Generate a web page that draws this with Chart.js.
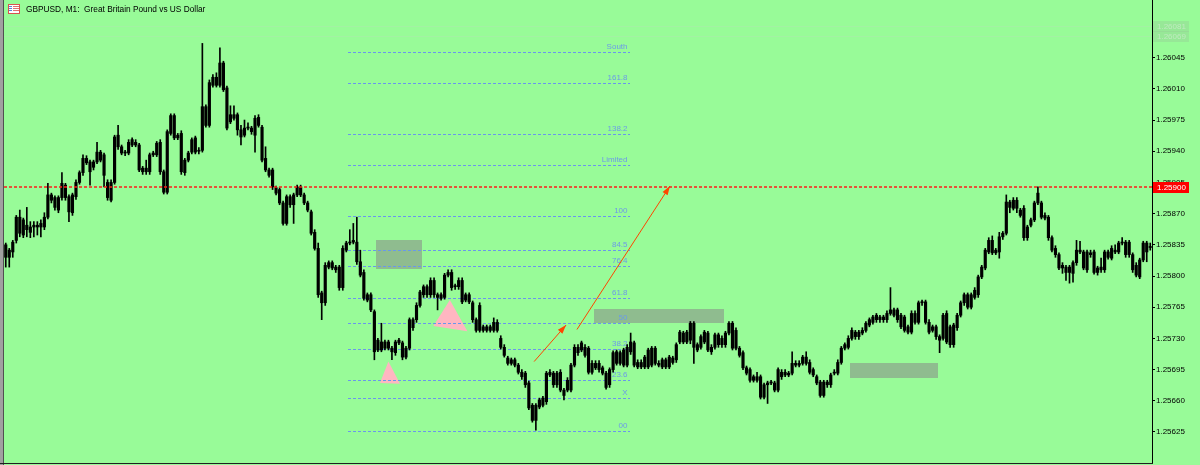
<!DOCTYPE html>
<html>
<head>
<meta charset="utf-8">
<script src="https://cdn.jsdelivr.net/npm/chart.js@4.4.1/dist/chart.umd.min.js"></script>
<style>
  html, body { margin: 0; padding: 0; background: #98fb98; }
  #wrap { position: relative; width: 1200px; height: 465px; overflow: hidden; }
</style>
</head>
<body>
<div id="wrap"><canvas id="chart" width="1200" height="465"></canvas></div>
<script>
// GBPUSD M1 candles
const opens = [
  1.25821,1.25829,1.25827,1.25840,1.25866,1.25846,1.25857,1.25849,1.25857,1.25855,
  1.25855,1.25855,1.25866,1.25891,1.25888,1.25874,1.25888,1.25902,1.25889,1.25871,
  1.25889,1.25905,1.25916,1.25932,1.25928,1.25922,1.25928,1.25939,1.25936,1.25905,
  1.25885,1.25905,1.25958,1.25945,1.25939,1.25938,1.25947,1.25950,1.25947,1.25917,
  1.25921,1.25917,1.25936,1.25936,1.25950,1.25917,1.25894,1.25960,1.25980,1.25955,
  1.25960,1.25916,1.25930,1.25939,1.25955,1.25940,1.25941,1.25990,1.25969,1.26014,
  1.26023,1.26014,1.26039,1.26011,1.25973,1.25981,1.25981,1.25964,1.25958,1.25967,
  1.25966,1.25958,1.25978,1.25967,1.25932,1.25919,1.25919,1.25899,1.25897,1.25882,
  1.25859,1.25889,1.25880,1.25891,1.25900,1.25891,1.25882,1.25872,1.25849,1.25831,
  1.25781,1.25770,1.25810,1.25815,1.25810,1.25810,1.25787,1.25829,1.25837,1.25838,
  1.25838,1.25816,1.25804,1.25773,1.25779,1.25760,1.25717,1.25726,1.25719,1.25726,
  1.25719,1.25714,1.25725,1.25725,1.25709,1.25719,1.25751,1.25751,1.25767,1.25779,
  1.25788,1.25779,1.25795,1.25779,1.25779,1.25776,1.25801,1.25804,1.25788,1.25788,
  1.25795,1.25773,1.25779,1.25770,1.25751,1.25739,1.25743,1.25739,1.25743,1.25739,
  1.25748,1.25730,1.25720,1.25708,1.25702,1.25706,1.25700,1.25692,1.25691,1.25680,
  1.25655,1.25638,1.25653,1.25655,1.25659,1.25692,1.25691,1.25678,1.25692,1.25672,
  1.25672,1.25672,1.25700,1.25720,1.25717,1.25720,1.25719,1.25692,1.25702,1.25702,
  1.25697,1.25691,1.25678,1.25695,1.25715,1.25702,1.25700,1.25700,1.25715,1.25725,
  1.25698,1.25703,1.25698,1.25717,1.25700,1.25719,1.25702,1.25698,1.25706,1.25698,
  1.25708,1.25706,1.25726,1.25736,1.25726,1.25728,1.25747,1.25723,1.25720,1.25726,
  1.25736,1.25720,1.25720,1.25734,1.25723,1.25723,1.25736,1.25747,1.25719,1.25719,
  1.25714,1.25697,1.25695,1.25687,1.25683,1.25687,1.25664,1.25678,1.25681,1.25680,
  1.25672,1.25692,1.25689,1.25691,1.25691,1.25700,1.25702,1.25702,1.25709,1.25703,
  1.25695,1.25687,1.25681,1.25666,1.25681,1.25678,1.25691,1.25691,1.25703,1.25719,
  1.25720,1.25730,1.25737,1.25732,1.25736,1.25739,1.25745,1.25748,1.25751,1.25754,
  1.25751,1.25751,1.25758,1.25762,1.25762,1.25756,1.25739,1.25743,1.25737,1.25758,
  1.25748,1.25770,1.25771,1.25748,1.25743,1.25743,1.25732,1.25730,1.25758,1.25723,
  1.25745,1.25742,1.25756,1.25770,1.25779,1.25765,1.25776,1.25779,1.25799,1.25809,
  1.25827,1.25840,1.25829,1.25827,1.25844,1.25848,1.25883,1.25876,1.25885,1.25874,
  1.25876,1.25843,1.25857,1.25863,1.25882,1.25882,1.25868,1.25866,1.25843,1.25831,
  1.25824,1.25812,1.25810,1.25804,1.25803,1.25815,1.25829,1.25827,1.25807,1.25826,
  1.25827,1.25804,1.25807,1.25807,1.25827,1.25820,1.25827,1.25827,1.25837,1.25838,
  1.25824,1.25824,1.25812,1.25799,1.25818,1.25837,1.25832
];
const highs = [
  1.25837,1.25831,1.25840,1.25868,1.25874,1.25865,1.25877,1.25861,1.25861,1.25861,
  1.25863,1.25871,1.25904,1.25893,1.25890,1.25890,1.25916,1.25904,1.25891,1.25893,
  1.25908,1.25918,1.25936,1.25935,1.25930,1.25930,1.25950,1.25941,1.25938,1.25908,
  1.25908,1.25958,1.25969,1.25947,1.25941,1.25953,1.25955,1.25953,1.25949,1.25923,
  1.25930,1.25938,1.25940,1.25951,1.25953,1.25919,1.25964,1.25982,1.25982,1.25960,
  1.25963,1.25932,1.25940,1.25955,1.25957,1.25944,1.26061,1.25992,1.26020,1.26026,
  1.26028,1.26056,1.26041,1.26013,1.25991,1.25991,1.25983,1.25969,1.25975,1.25972,
  1.25968,1.25980,1.25981,1.25969,1.25945,1.25921,1.25921,1.25901,1.25899,1.25884,
  1.25891,1.25891,1.25893,1.25902,1.25902,1.25893,1.25884,1.25874,1.25852,1.25837,
  1.25783,1.25815,1.25817,1.25817,1.25812,1.25812,1.25834,1.25839,1.25852,1.25859,
  1.25866,1.25829,1.25807,1.25781,1.25781,1.25762,1.25730,1.25747,1.25728,1.25728,
  1.25721,1.25728,1.25730,1.25727,1.25721,1.25753,1.25753,1.25770,1.25784,1.25790,
  1.25790,1.25798,1.25798,1.25781,1.25781,1.25803,1.25807,1.25807,1.25791,1.25798,
  1.25798,1.25781,1.25781,1.25772,1.25753,1.25770,1.25745,1.25745,1.25745,1.25753,
  1.25751,1.25733,1.25723,1.25710,1.25708,1.25708,1.25702,1.25695,1.25693,1.25682,
  1.25657,1.25657,1.25663,1.25665,1.25693,1.25695,1.25693,1.25693,1.25695,1.25674,
  1.25686,1.25702,1.25723,1.25723,1.25727,1.25723,1.25721,1.25705,1.25705,1.25705,
  1.25699,1.25693,1.25697,1.25716,1.25717,1.25716,1.25719,1.25723,1.25736,1.25727,
  1.25706,1.25706,1.25711,1.25719,1.25721,1.25721,1.25705,1.25708,1.25708,1.25711,
  1.25710,1.25725,1.25739,1.25738,1.25739,1.25749,1.25749,1.25725,1.25734,1.25739,
  1.25738,1.25723,1.25736,1.25736,1.25733,1.25738,1.25749,1.25749,1.25742,1.25721,
  1.25716,1.25699,1.25697,1.25689,1.25692,1.25689,1.25680,1.25682,1.25683,1.25682,
  1.25697,1.25695,1.25695,1.25693,1.25715,1.25705,1.25705,1.25711,1.25715,1.25706,
  1.25697,1.25689,1.25683,1.25683,1.25683,1.25691,1.25695,1.25706,1.25721,1.25725,
  1.25733,1.25742,1.25739,1.25739,1.25742,1.25749,1.25753,1.25756,1.25758,1.25756,
  1.25756,1.25761,1.25787,1.25764,1.25764,1.25758,1.25756,1.25745,1.25761,1.25761,
  1.25772,1.25773,1.25773,1.25751,1.25745,1.25745,1.25734,1.25758,1.25761,1.25745,
  1.25747,1.25758,1.25772,1.25781,1.25781,1.25781,1.25787,1.25801,1.25812,1.25831,
  1.25843,1.25845,1.25831,1.25849,1.25850,1.25891,1.25885,1.25888,1.25888,1.25876,
  1.25879,1.25857,1.25865,1.25884,1.25900,1.25884,1.25871,1.25868,1.25845,1.25834,
  1.25826,1.25815,1.25812,1.25812,1.25817,1.25840,1.25839,1.25829,1.25829,1.25829,
  1.25829,1.25811,1.25820,1.25829,1.25829,1.25834,1.25835,1.25839,1.25843,1.25840,
  1.25840,1.25826,1.25815,1.25820,1.25839,1.25839,1.25837
];
const lows = [
  1.25810,1.25810,1.25821,1.25837,1.25844,1.25843,1.25844,1.25843,1.25844,1.25846,
  1.25844,1.25852,1.25864,1.25882,1.25874,1.25871,1.25885,1.25885,1.25861,1.25868,
  1.25886,1.25903,1.25913,1.25925,1.25902,1.25919,1.25926,1.25928,1.25900,1.25885,
  1.25883,1.25903,1.25942,1.25936,1.25935,1.25936,1.25945,1.25945,1.25917,1.25914,
  1.25914,1.25914,1.25934,1.25934,1.25914,1.25892,1.25892,1.25958,1.25953,1.25953,
  1.25914,1.25913,1.25928,1.25937,1.25937,1.25937,1.25939,1.25967,1.25967,1.26012,
  1.26012,1.26012,1.26007,1.25964,1.25971,1.25975,1.25958,1.25947,1.25956,1.25964,
  1.25959,1.25939,1.25967,1.25928,1.25917,1.25911,1.25897,1.25891,1.25880,1.25857,
  1.25857,1.25877,1.25859,1.25889,1.25889,1.25880,1.25872,1.25846,1.25829,1.25776,
  1.25751,1.25767,1.25808,1.25807,1.25804,1.25784,1.25784,1.25827,1.25835,1.25836,
  1.25813,1.25799,1.25773,1.25771,1.25760,1.25706,1.25715,1.25715,1.25717,1.25717,
  1.25706,1.25711,1.25723,1.25706,1.25707,1.25717,1.25739,1.25748,1.25765,1.25776,
  1.25776,1.25776,1.25776,1.25762,1.25773,1.25774,1.25799,1.25784,1.25785,1.25785,
  1.25769,1.25771,1.25769,1.25748,1.25737,1.25737,1.25737,1.25737,1.25737,1.25737,
  1.25737,1.25718,1.25709,1.25700,1.25700,1.25698,1.25690,1.25684,1.25675,1.25650,
  1.25636,1.25627,1.25651,1.25653,1.25656,1.25687,1.25675,1.25675,1.25670,1.25661,
  1.25670,1.25670,1.25698,1.25711,1.25715,1.25709,1.25690,1.25690,1.25695,1.25692,
  1.25689,1.25673,1.25675,1.25692,1.25700,1.25700,1.25698,1.25698,1.25712,1.25698,
  1.25696,1.25696,1.25696,1.25696,1.25698,1.25700,1.25698,1.25696,1.25696,1.25696,
  1.25701,1.25703,1.25724,1.25724,1.25724,1.25724,1.25702,1.25715,1.25718,1.25724,
  1.25715,1.25712,1.25718,1.25720,1.25720,1.25720,1.25734,1.25717,1.25717,1.25709,
  1.25695,1.25689,1.25681,1.25681,1.25681,1.25662,1.25662,1.25657,1.25678,1.25670,
  1.25670,1.25684,1.25687,1.25687,1.25689,1.25698,1.25698,1.25700,1.25700,1.25690,
  1.25687,1.25678,1.25664,1.25664,1.25675,1.25675,1.25689,1.25689,1.25701,1.25717,
  1.25718,1.25728,1.25729,1.25729,1.25734,1.25737,1.25743,1.25746,1.25748,1.25748,
  1.25748,1.25748,1.25756,1.25754,1.25748,1.25741,1.25737,1.25735,1.25735,1.25746,
  1.25746,1.25767,1.25746,1.25735,1.25737,1.25729,1.25714,1.25728,1.25724,1.25720,
  1.25720,1.25739,1.25754,1.25767,1.25763,1.25763,1.25774,1.25776,1.25797,1.25807,
  1.25825,1.25824,1.25824,1.25820,1.25841,1.25846,1.25871,1.25874,1.25871,1.25866,
  1.25840,1.25840,1.25855,1.25861,1.25880,1.25864,1.25863,1.25840,1.25827,1.25821,
  1.25807,1.25803,1.25795,1.25792,1.25793,1.25812,1.25825,1.25807,1.25804,1.25821,
  1.25802,1.25801,1.25804,1.25804,1.25819,1.25818,1.25825,1.25825,1.25835,1.25821,
  1.25821,1.25804,1.25799,1.25797,1.25816,1.25816,1.25829
];
const closes = [
  1.25835,1.25821,1.25838,1.25866,1.25848,1.25863,1.25852,1.25855,1.25855,1.25857,
  1.25859,1.25866,1.25891,1.25885,1.25877,1.25888,1.25904,1.25888,1.25872,1.25891,
  1.25905,1.25916,1.25932,1.25927,1.25917,1.25928,1.25939,1.25930,1.25913,1.25888,
  1.25905,1.25956,1.25945,1.25938,1.25938,1.25950,1.25953,1.25947,1.25919,1.25921,
  1.25917,1.25936,1.25938,1.25949,1.25917,1.25894,1.25962,1.25980,1.25955,1.25958,
  1.25917,1.25930,1.25938,1.25953,1.25939,1.25941,1.25990,1.25969,1.26017,1.26023,
  1.26014,1.26039,1.26009,1.25966,1.25981,1.25977,1.25964,1.25956,1.25966,1.25966,
  1.25962,1.25977,1.25969,1.25930,1.25919,1.25913,1.25900,1.25893,1.25882,1.25859,
  1.25889,1.25880,1.25891,1.25900,1.25891,1.25882,1.25874,1.25848,1.25831,1.25779,
  1.25770,1.25812,1.25815,1.25809,1.25807,1.25787,1.25831,1.25837,1.25838,1.25840,
  1.25816,1.25801,1.25775,1.25779,1.25762,1.25715,1.25728,1.25717,1.25726,1.25719,
  1.25715,1.25726,1.25728,1.25709,1.25719,1.25751,1.25742,1.25767,1.25782,1.25788,
  1.25779,1.25795,1.25779,1.25776,1.25775,1.25801,1.25804,1.25787,1.25789,1.25795,
  1.25771,1.25779,1.25771,1.25751,1.25739,1.25767,1.25739,1.25743,1.25739,1.25748,
  1.25739,1.25720,1.25711,1.25702,1.25706,1.25700,1.25692,1.25687,1.25678,1.25652,
  1.25638,1.25655,1.25661,1.25663,1.25691,1.25689,1.25678,1.25691,1.25672,1.25666,
  1.25683,1.25700,1.25720,1.25714,1.25725,1.25711,1.25692,1.25702,1.25697,1.25695,
  1.25691,1.25675,1.25695,1.25714,1.25702,1.25714,1.25717,1.25720,1.25726,1.25700,
  1.25703,1.25698,1.25709,1.25698,1.25719,1.25702,1.25700,1.25706,1.25698,1.25709,
  1.25703,1.25723,1.25737,1.25726,1.25737,1.25747,1.25720,1.25717,1.25732,1.25737,
  1.25717,1.25715,1.25734,1.25723,1.25730,1.25736,1.25747,1.25719,1.25739,1.25711,
  1.25697,1.25691,1.25683,1.25683,1.25687,1.25664,1.25678,1.25680,1.25680,1.25672,
  1.25695,1.25687,1.25692,1.25689,1.25702,1.25702,1.25700,1.25709,1.25702,1.25692,
  1.25689,1.25680,1.25666,1.25681,1.25678,1.25689,1.25692,1.25703,1.25719,1.25723,
  1.25730,1.25739,1.25732,1.25737,1.25739,1.25747,1.25751,1.25754,1.25756,1.25751,
  1.25754,1.25758,1.25762,1.25756,1.25751,1.25743,1.25754,1.25737,1.25758,1.25748,
  1.25770,1.25771,1.25748,1.25737,1.25739,1.25732,1.25728,1.25756,1.25726,1.25743,
  1.25723,1.25756,1.25770,1.25779,1.25765,1.25779,1.25784,1.25799,1.25810,1.25829,
  1.25840,1.25826,1.25826,1.25844,1.25848,1.25883,1.25877,1.25885,1.25876,1.25868,
  1.25843,1.25855,1.25863,1.25882,1.25893,1.25866,1.25865,1.25843,1.25829,1.25824,
  1.25809,1.25809,1.25804,1.25810,1.25815,1.25829,1.25827,1.25809,1.25827,1.25824,
  1.25804,1.25809,1.25810,1.25827,1.25821,1.25831,1.25829,1.25837,1.25838,1.25824,
  1.25838,1.25807,1.25801,1.25818,1.25837,1.25827,1.25833
];
const bars = opens.map((_, i) => String(i));

// price axis
const priceMin = 1.255902;
const priceMax = 1.261097;
const yTicks = [1.25625, 1.25660, 1.25695, 1.25730, 1.25765, 1.25800, 1.25835,
                1.25870, 1.25905, 1.25940, 1.25975, 1.26010, 1.26045];
const lastPrice = 1.25900;
const quoteLines = [1.26081, 1.26069];

// fibo object (bar index span + levels)
const fibSpan = [97.6, 177.8];
const fibLabels = ['South', '161.8', '138.2', 'Limited', '100', '84.5', '76.4', '61.8', '50', '38.2', '23.6', 'X', '00'];
const fibPrices = [1.26051, 1.26017, 1.25959, 1.25925, 1.25867, 1.25829, 1.25811, 1.25775, 1.25747, 1.25718, 1.25683, 1.25663, 1.25626];

// rectangles: bar index from/to, price top/bottom
const zoneFrom = [105.5, 167.6, 240.5];
const zoneTo = [118.5, 204.6, 265.5];
const zoneTop = [1.25840, 1.25763, 1.25702];
const zoneBottom = [1.25808, 1.25747, 1.25686];

// triangles [barIndex, price]
const triangles = [
  [[109.0, 1.25704], [106.6, 1.25680], [112.3, 1.25679]],
  [[126.5, 1.25773], [121.8, 1.25744], [131.5, 1.25738]]
];
// arrowed lines [from, to]
const arrows = [
  [[150.5, 1.25704], [159.6, 1.25745]],
  [[162.7, 1.25740], [189.2, 1.25901]]
];

const FONT = "'Liberation Sans', Arial, sans-serif";
Chart.defaults.font.family = FONT;

const mtPlugin = {
  id: 'mt',
  beforeDraw(chart) {
    const c = chart.ctx;
    c.save();
    c.fillStyle = '#98fb98';
    c.fillRect(0, 0, chart.width, chart.height);
    c.restore();
  },
  beforeDatasetsDraw(chart) {
    const c = chart.ctx, a = chart.chartArea;
    const xs = chart.scales.x, ys = chart.scales.y;
    const X = v => xs.getPixelForValue(v);
    const Y = v => ys.getPixelForValue(v);
    c.save();

    // faint bid/ask lines
    c.lineWidth = 1;
    c.strokeStyle = 'rgba(170,235,170,0.6)';
    quoteLines.forEach(v => {
      const y = Math.round(Y(v)) + 0.5;
      c.beginPath(); c.moveTo(a.left, y); c.lineTo(a.right, y); c.stroke();
    });

    // rectangles
    c.fillStyle = '#8fbc8f';
    zoneFrom.forEach((f, i) => {
      const x0 = Math.round(X(f)), x1 = Math.round(X(zoneTo[i]));
      const y0 = Math.round(Y(zoneTop[i])), y1 = Math.round(Y(zoneBottom[i]));
      c.fillRect(x0, y0, x1 - x0, y1 - y0);
    });

    // triangles
    c.fillStyle = '#ffb6c1';
    triangles.forEach(t => {
      c.beginPath();
      t.forEach((p, k) => k ? c.lineTo(X(p[0]), Y(p[1])) : c.moveTo(X(p[0]), Y(p[1])));
      c.closePath(); c.fill();
    });

    // fibo levels
    const fx0 = Math.round(X(fibSpan[0])), fx1 = Math.round(X(fibSpan[1]));
    c.setLineDash([3, 2]);
    c.strokeStyle = '#6a96ec';
    fibPrices.forEach(v => {
      const y = Math.round(Y(v)) + 0.5;
      c.beginPath(); c.moveTo(fx0, y); c.lineTo(fx1, y); c.stroke();
    });
    c.setLineDash([]);
    c.font = '8px ' + FONT;
    c.fillStyle = '#6c9ae8';
    c.textAlign = 'right';
    c.textBaseline = 'middle';
    fibPrices.forEach((v, i) => {
      c.fillText(fibLabels[i], fx1 - 2.5, Math.round(Y(v)) - 5);
    });

    // arrows
    c.strokeStyle = '#ff4500';
    c.fillStyle = '#ff4500';
    arrows.forEach(([p0, p1]) => {
      const x0 = X(p0[0]), y0 = Y(p0[1]), x1 = X(p1[0]), y1 = Y(p1[1]);
      c.beginPath(); c.moveTo(x0, y0); c.lineTo(x1, y1); c.stroke();
      const ang = Math.atan2(y1 - y0, x1 - x0);
      const L = 9, W = 3;
      const bx = x1 - L * Math.cos(ang), by = y1 - L * Math.sin(ang);
      c.beginPath();
      c.moveTo(x1, y1);
      c.lineTo(bx + W * Math.sin(ang), by - W * Math.cos(ang));
      c.lineTo(bx - W * Math.sin(ang), by + W * Math.cos(ang));
      c.closePath(); c.fill();
    });
    c.restore();
  },
  afterDatasetsDraw(chart) {
    // last price line drawn over the candles
    const c = chart.ctx, a = chart.chartArea;
    const ry = Math.round(chart.scales.y.getPixelForValue(lastPrice));
    c.save();
    c.lineWidth = 1.6;
    c.strokeStyle = '#ff1a1a';
    c.setLineDash([3, 2]);
    c.beginPath(); c.moveTo(a.left, ry); c.lineTo(a.right, ry); c.stroke();
    c.restore();
  },
  afterDraw(chart) {
    const c = chart.ctx, a = chart.chartArea;
    const ys = chart.scales.y;
    c.save();

    // window frame
    c.fillStyle = '#a0a0a0';
    c.fillRect(0, 0, 3, chart.height);
    c.fillStyle = '#505050';
    c.fillRect(3, 0, 1, chart.height);
    c.fillStyle = '#202020';
    c.fillRect(0, Math.round(a.bottom), Math.round(a.right) + 1, 1);

    // axis price labels
    c.font = '8px ' + FONT;
    c.textAlign = 'left';
    c.textBaseline = 'middle';
    quoteLines.forEach(v => {
      const y = Math.round(ys.getPixelForValue(v));
      c.fillStyle = 'rgba(150,205,150,0.4)';
      c.fillRect(a.right + 1, y - 5, 36, 11);
      c.fillStyle = 'rgba(200,235,200,0.8)';
      c.fillText(v.toFixed(5), a.right + 5, y + 0.5);
    });
    const ry = Math.round(ys.getPixelForValue(lastPrice));
    c.fillStyle = '#ff0000';
    c.fillRect(a.right + 1, ry - 5, 36, 11);
    c.fillStyle = '#ffffff';
    c.fillText(lastPrice.toFixed(5), a.right + 5, ry + 0.5);

    // title with icon
    c.fillStyle = '#ffffff';
    c.fillRect(8, 4, 12, 10);
    c.strokeStyle = '#d9534f';
    c.lineWidth = 1;
    c.strokeRect(8.5, 4.5, 11, 9);
    c.fillStyle = '#e07070';
    c.fillRect(13, 6, 6, 1); c.fillRect(13, 8, 6, 1); c.fillRect(13, 10, 6, 1);
    c.fillStyle = '#5b7fd6';
    c.fillRect(9, 6, 3, 1); c.fillRect(9, 8, 3, 1); c.fillRect(9, 10, 3, 1);
    c.fillStyle = '#000000';
    c.font = '8.3px ' + FONT;
    c.textBaseline = 'middle';
    c.fillText('GBPUSD, M1:  Great Britain Pound vs US Dollar', 26, 9.5);
    c.restore();
  }
};

new Chart(document.getElementById('chart'), {
  type: 'bar',
  data: {
    labels: bars,
    datasets: [
      {
        label: 'wicks',
        data: lows.map((l, i) => [l, highs[i]]),
        backgroundColor: '#000000',
        barThickness: 1,
        minBarLength: 1,
        grouped: false,
        order: 2
      },
      {
        label: 'bodies',
        data: opens.map((o, i) => [o, closes[i]]),
        backgroundColor: '#000000',
        barThickness: 2.5,
        minBarLength: 1,
        grouped: false,
        order: 1
      }
    ]
  },
  options: {
    responsive: false,
    animation: false,
    devicePixelRatio: 1,
    events: [],
    layout: { padding: { left: 4, top: 0, right: 0, bottom: 2 } },
    plugins: { legend: { display: false }, tooltip: { enabled: false }, title: { display: false } },
    scales: {
      x: { display: false, offset: true },
      y: {
        position: 'right',
        min: priceMin,
        max: priceMax,
        afterBuildTicks: axis => { axis.ticks = yTicks.map(v => ({ value: v })); },
        afterFit: axis => { axis.width = 48; axis.paddingTop = 0; axis.paddingBottom = 0; },
        ticks: {
          color: '#000000',
          font: { size: 8, family: FONT },
          padding: 1,
          callback: v => Number(v).toFixed(5)
        },
        grid: { drawOnChartArea: false, drawTicks: true, tickLength: 3, color: '#000000' },
        border: { display: true, color: '#000000', width: 1 }
      }
    }
  },
  plugins: [mtPlugin]
});
</script>
</body>
</html>
